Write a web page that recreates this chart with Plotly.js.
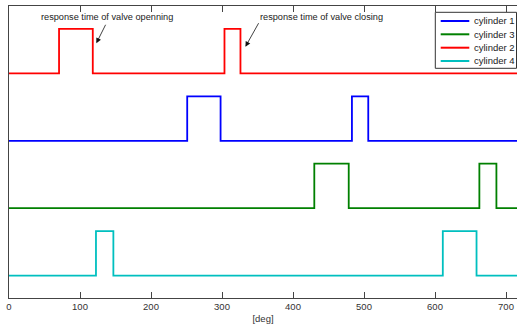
<!DOCTYPE html>
<html>
<head>
<meta charset="utf-8">
<script src="https://cdn.plot.ly/plotly-3.0.1.min.js"></script>
<style>html,body{margin:0;padding:0;background:#fff}#chart{width:517px;height:324px}</style>
</head>
<body>
<div id="chart"></div>
<script>
// Crank angle edges (deg) where each valve signal switches high / low
var cylinderNames = ["cylinder 1", "cylinder 3", "cylinder 2", "cylinder 4"];
var cyl1Edges = [251, 298, 483, 506];
var cyl3Edges = [430, 478.5, 662.5, 686.5];
var cyl2Edges = [70.5, 118, 303.5, 326];
var cyl4Edges = [122.5, 147, 611, 658.5];
var cylinderColors = ["#0000ff", "#008000", "#ff0000", "#00bfbf"];
var xStart = 0, xEnd = 720;
var annotTexts = ["response time of valve openning", "response time of valve closing"];

// vertical stacking (display only)
var offsets = [2, 1, 3, 0];
var amp = 0.66;

function stepTrace(edges, off, color, name) {
  var xs = [xStart], ys = [off];
  var level = 0;
  edges.forEach(function (e) {
    xs.push(e); ys.push(off + level * amp);
    level = 1 - level;
    xs.push(e); ys.push(off + level * amp);
  });
  xs.push(xEnd); ys.push(off + level * amp);
  return {x: xs, y: ys, type: 'scatter', mode: 'lines', name: name,
          line: {color: color, width: 1.8}, showlegend: false, hoverinfo: 'skip'};
}

var edgesAll = [cyl1Edges, cyl3Edges, cyl2Edges, cyl4Edges];
var traces = edgesAll.map(function (e, i) { return stepTrace(e, offsets[i], cylinderColors[i], cylinderNames[i]); });

var W = 517, H = 324, mL = 9, mR = 0, mT = 6, mB = 26;
function px(x) { return (x - mL) / (W - mL - mR); }
function py(y) { return (H - mB - y) / (H - mT - mB); }

var shapes = [{type: 'rect', xref: 'paper', yref: 'paper', x0: px(435.3), x1: px(516.5), y0: py(68.3), y1: py(12.3),
  line: {color: '#333', width: 1}, fillcolor: '#fff', layer: 'above'}];
var annotations = [];
var rows = [21, 34.3, 47.7, 61];
cylinderNames.forEach(function (n, i) {
  shapes.push({type: 'line', xref: 'paper', yref: 'paper', x0: px(440.7), x1: px(469.3), y0: py(rows[i]), y1: py(rows[i]),
    line: {color: cylinderColors[i], width: 2}, layer: 'above'});
  annotations.push({xref: 'paper', yref: 'paper', x: px(472), y: py(rows[i]), xanchor: 'left', yanchor: 'middle',
    text: n, showarrow: false, font: {family: 'Liberation Sans, Arial, sans-serif', size: 9.5, color: '#222'}});
});

var f = {family: 'Liberation Sans, Arial, sans-serif', size: 9.2, color: '#222'};
// text labels
annotations.push({xref: 'x', yref: 'y', x: 138, y: 3.832, text: annotTexts[0], showarrow: false, font: f, xanchor: 'center', yanchor: 'middle'});
annotations.push({xref: 'x', yref: 'y', x: 439.5, y: 3.832, text: annotTexts[1], showarrow: false, font: f, xanchor: 'center', yanchor: 'middle'});
// arrows
annotations.push({xref: 'x', yref: 'y', x: 123, y: 3.447, text: '', showarrow: true, ax: 10, ay: -20,
  arrowhead: 2, arrowsize: 1.3, arrowwidth: 0.8, arrowcolor: '#111'});
annotations.push({xref: 'x', yref: 'y', x: 333, y: 3.396, text: '', showarrow: true, ax: 14, ay: -25,
  arrowhead: 2, arrowsize: 1.3, arrowwidth: 0.8, arrowcolor: '#111'});

var layout = {
  width: W, height: H,
  margin: {l: mL, r: mR, t: mT, b: mB, pad: 0},
  paper_bgcolor: '#fff', plot_bgcolor: '#fff',
  showlegend: false,
  xaxis: {range: [0, 715.5], tickvals: [0, 100, 200, 300, 400, 500, 600, 700], ticktext: ['0','100','200','300','400','500','600','700'],
    ticks: 'inside', ticklen: 6, tickcolor: '#444', tickwidth: 1, showline: true, linecolor: '#444', linewidth: 1,
    mirror: 'ticks', showgrid: false, zeroline: false, tickfont: {family: 'Liberation Sans, Arial, sans-serif', size: 9.5, color: '#333'},
    title: {text: '[deg]', font: {family: 'Liberation Sans, Arial, sans-serif', size: 9.5, color: '#333'}, standoff: 4}},
  yaxis: {range: [-0.333, 4.0], showticklabels: false, ticks: '', showline: true, linecolor: '#444', linewidth: 1,
    showgrid: false, zeroline: false},
  shapes: shapes,
  annotations: annotations
};
Plotly.newPlot('chart', traces, layout, {staticPlot: true, displayModeBar: false});
</script>
</body>
</html>
